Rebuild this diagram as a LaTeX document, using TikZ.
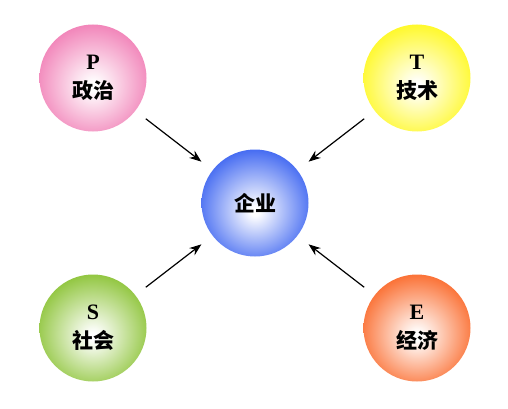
\documentclass[tikz,border=0pt]{standalone}
\usepackage{fontspec}
\setmainfont{Liberation Serif}
\newfontfamily\cjk{Noto Sans CJK SC}
\usetikzlibrary{arrows.meta}

\definecolor{pinkc}{RGB}{240,120,178}
\definecolor{yellowc}{RGB}{255,248,20}
\definecolor{bluec}{RGB}{50,92,240}
\definecolor{greenc}{RGB}{134,192,44}
\definecolor{orangec}{RGB}{250,98,32}

\pgfdeclareradialshading[ballcol]{sphere}{\pgfpoint{0bp}{-4bp}}{%
  color(0bp)=(white); color(2bp)=(white); color(30bp)=(ballcol); color(60bp)=(ballcol)}

\newcommand\letr[1]{{\fontsize{22}{29}\selectfont #1}}

\tikzset{
  planet/.style = {circle, minimum size=107pt, inner sep=0pt, align=center,
                   /utils/exec={\colorlet{ballcol}{#1}}, shading=sphere,
                   font=\fontsize{21}{29}\selectfont\bfseries}
}

\begin{document}
\begin{tikzpicture}[x=1pt,y=-1pt,
                    arrow/.style = {line width=1.2pt,-{Stealth[length=12pt,width=9pt]},
                                    shorten <=13pt, shorten >=14pt}]
  \useasboundingbox (0,0) rectangle (508,409);

  \node[planet=pinkc]   (pol)  at (93,78)   {\letr{P}\\{\cjk 政治}};
  \node[planet=yellowc] (tech) at (417,78)  {\letr{T}\\{\cjk 技术}};
  \node[planet=bluec]   (firm) at (255,203) {\cjk 企业};
  \node[planet=greenc]  (soc)  at (93,328)  {\letr{S}\\{\cjk 社会}};
  \node[planet=orangec] (eco)  at (417,328) {\letr{E}\\{\cjk 经济}};

  \draw[arrow] (pol)  -- (firm);
  \draw[arrow] (tech) -- (firm);
  \draw[arrow] (soc)  -- (firm);
  \draw[arrow] (eco)  -- (firm);
\end{tikzpicture}
\end{document}
